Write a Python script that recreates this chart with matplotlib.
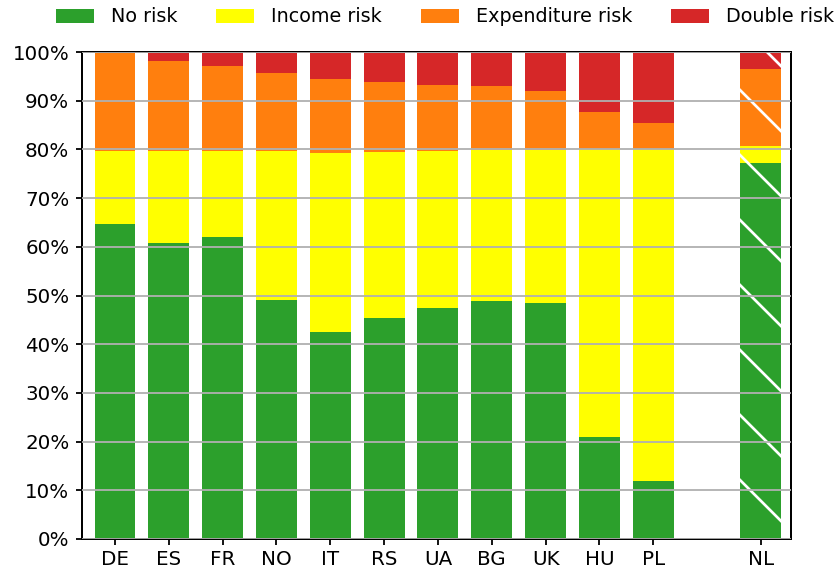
import matplotlib
matplotlib.use("Agg")
import matplotlib.pyplot as plt
import numpy as np
from matplotlib.backend_bases import GraphicsContextBase
from matplotlib.ticker import PercentFormatter

# sparser hatching than matplotlib's default
_hatch_path = GraphicsContextBase.get_hatch_path
GraphicsContextBase.get_hatch_path = lambda self, density=6.0: _hatch_path(self, 4.0)

countries = ['DE', 'ES', 'FR', 'NO', 'IT', 'RS', 'UA', 'BG', 'UK', 'HU', 'PL']
no_risk = [64.7, 60.8, 62.0, 49.1, 42.5, 45.4, 47.4, 48.9, 48.5, 20.9, 11.9]
income_risk = [15.0, 18.9, 17.7, 30.6, 36.8, 34.1, 32.3, 31.0, 31.4, 59.1, 68.1]
expenditure_risk = [20.3, 18.5, 17.4, 16.0, 15.2, 14.3, 13.5, 13.1, 12.1, 7.7, 5.4]
double_risk = [0.0, 1.8, 2.9, 4.3, 5.5, 6.2, 6.8, 7.0, 8.0, 12.3, 14.6]

# Netherlands, drawn apart and hatched
nl_label = 'NL'
nl_values = [77.3, 3.4, 15.8, 3.5]

labels = ['No risk', 'Income risk', 'Expenditure risk', 'Double risk']
colors = ['#2ca02c', '#ffff00', '#ff7f0e', '#d62728']

plt.rcParams['hatch.linewidth'] = 1.5

fig = plt.figure(figsize=(839 / 130, 568 / 130), dpi=130)
ax = fig.add_axes([82 / 839, 29 / 568, 709 / 839, 487 / 568])

x = np.arange(len(countries))
width = 0.76
bottom = np.zeros(len(countries))
for vals, lab, col in zip([no_risk, income_risk, expenditure_risk, double_risk], labels, colors):
    ax.bar(x, vals, width, bottom=bottom, color=col, label=lab, linewidth=0)
    bottom += np.array(vals)

x_nl = len(countries) + 1
b = 0.0
for v, col in zip(nl_values, colors):
    ax.bar(x_nl, v, width, bottom=b, color=col, edgecolor='white', linewidth=0, hatch='\\')
    b += v

ax.set_xticks(list(x) + [x_nl])
ax.set_xticklabels(countries + [nl_label])
ax.set_xlim(-0.613, 12.56)
ax.set_ylim(0, 100)
ax.set_yticks(np.arange(0, 101, 10))
ax.yaxis.set_major_formatter(PercentFormatter(decimals=0))
ax.tick_params(labelsize=11, width=1.0)
ax.tick_params(axis='x', pad=2.5)

ax.set_axisbelow(False)
ax.yaxis.grid(True, color='#b0b0b0', linewidth=1.0)
for s in ax.spines.values():
    s.set_linewidth(1.1)

handles, labs = ax.get_legend_handles_labels()
fig.legend(handles, labs, loc='center', bbox_to_anchor=(445 / 839, 1 - 17 / 568),
           ncol=4, frameon=False, fontsize=10.6, handletextpad=0.9, columnspacing=2.0)

fig.savefig('out.png', dpi=130)
